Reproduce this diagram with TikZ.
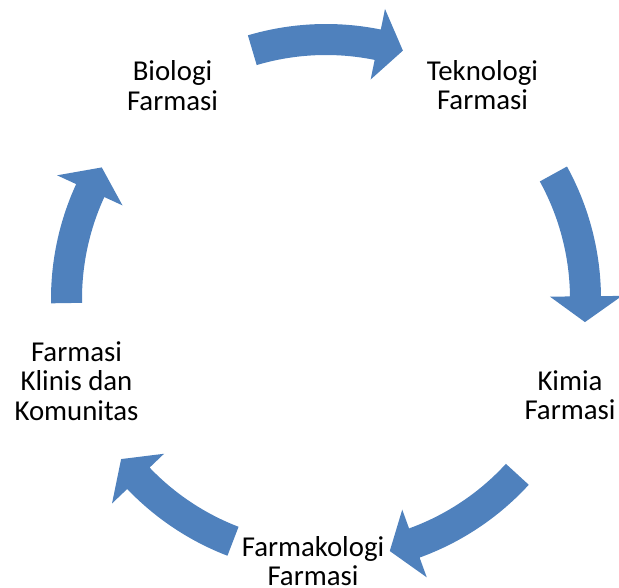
\documentclass[tikz,border=0pt]{standalone}
\usepackage{fontspec}
\setmainfont{Carlito}
\usetikzlibrary{calc}
\definecolor{arrblue}{HTML}{4F81BD}
\newcommand\labstrut{\rule{0pt}{24pt}}
\newcommand\cycarrow[2]{%
  \pgfmathsetmacro\cybase{#2+5.7}%
  \fill[arr] ($(C)+(#1:275pt)$) arc[start angle=#1, end angle=\cybase, radius=275pt]
    -- ($(C)+(\cybase:296pt)$) -- ($(C)+(#2:260pt)$) -- ($(C)+(\cybase:224pt)$)
    -- ($(C)+(\cybase:244pt)$) arc[start angle=\cybase, end angle=#1, radius=244pt] -- cycle;}
\begin{document}
\begin{tikzpicture}[x=1pt,y=1pt,
  arr/.style={fill=arrblue},
  lab/.style={align=center, inner sep=0pt, anchor=north, text=black,
    font=\fontsize{28.8}{29.5}\selectfont}]
\useasboundingbox (0,0) rectangle (619,-588);
\coordinate (C) at (326,-299);
% arrows
\cycarrow{106.5}{72.8}
\cycarrow{28.8}{-5.1}
\cycarrow{-42.5}{-75.8}
\cycarrow{249}{218}
\cycarrow{180.9}{149.6}
% labels (north = first baseline - 24)
\node[lab] (bio) at (172.5,-56.7) {\labstrut Biologi\\Farmasi};
\node[lab] (tek) at (482.5,-56.2) {\labstrut Teknologi\\Farmasi};
\node[lab] (kim) at (570,-366) {\labstrut Kimia\\Farmasi};
\node[lab] (fkl) at (313,-532) {\labstrut Farmakologi\\Farmasi};
\node[lab] (kli) at (76.5,-337) {\labstrut Farmasi\\Klinis dan\\Komunitas};
\end{tikzpicture}
\end{document}
